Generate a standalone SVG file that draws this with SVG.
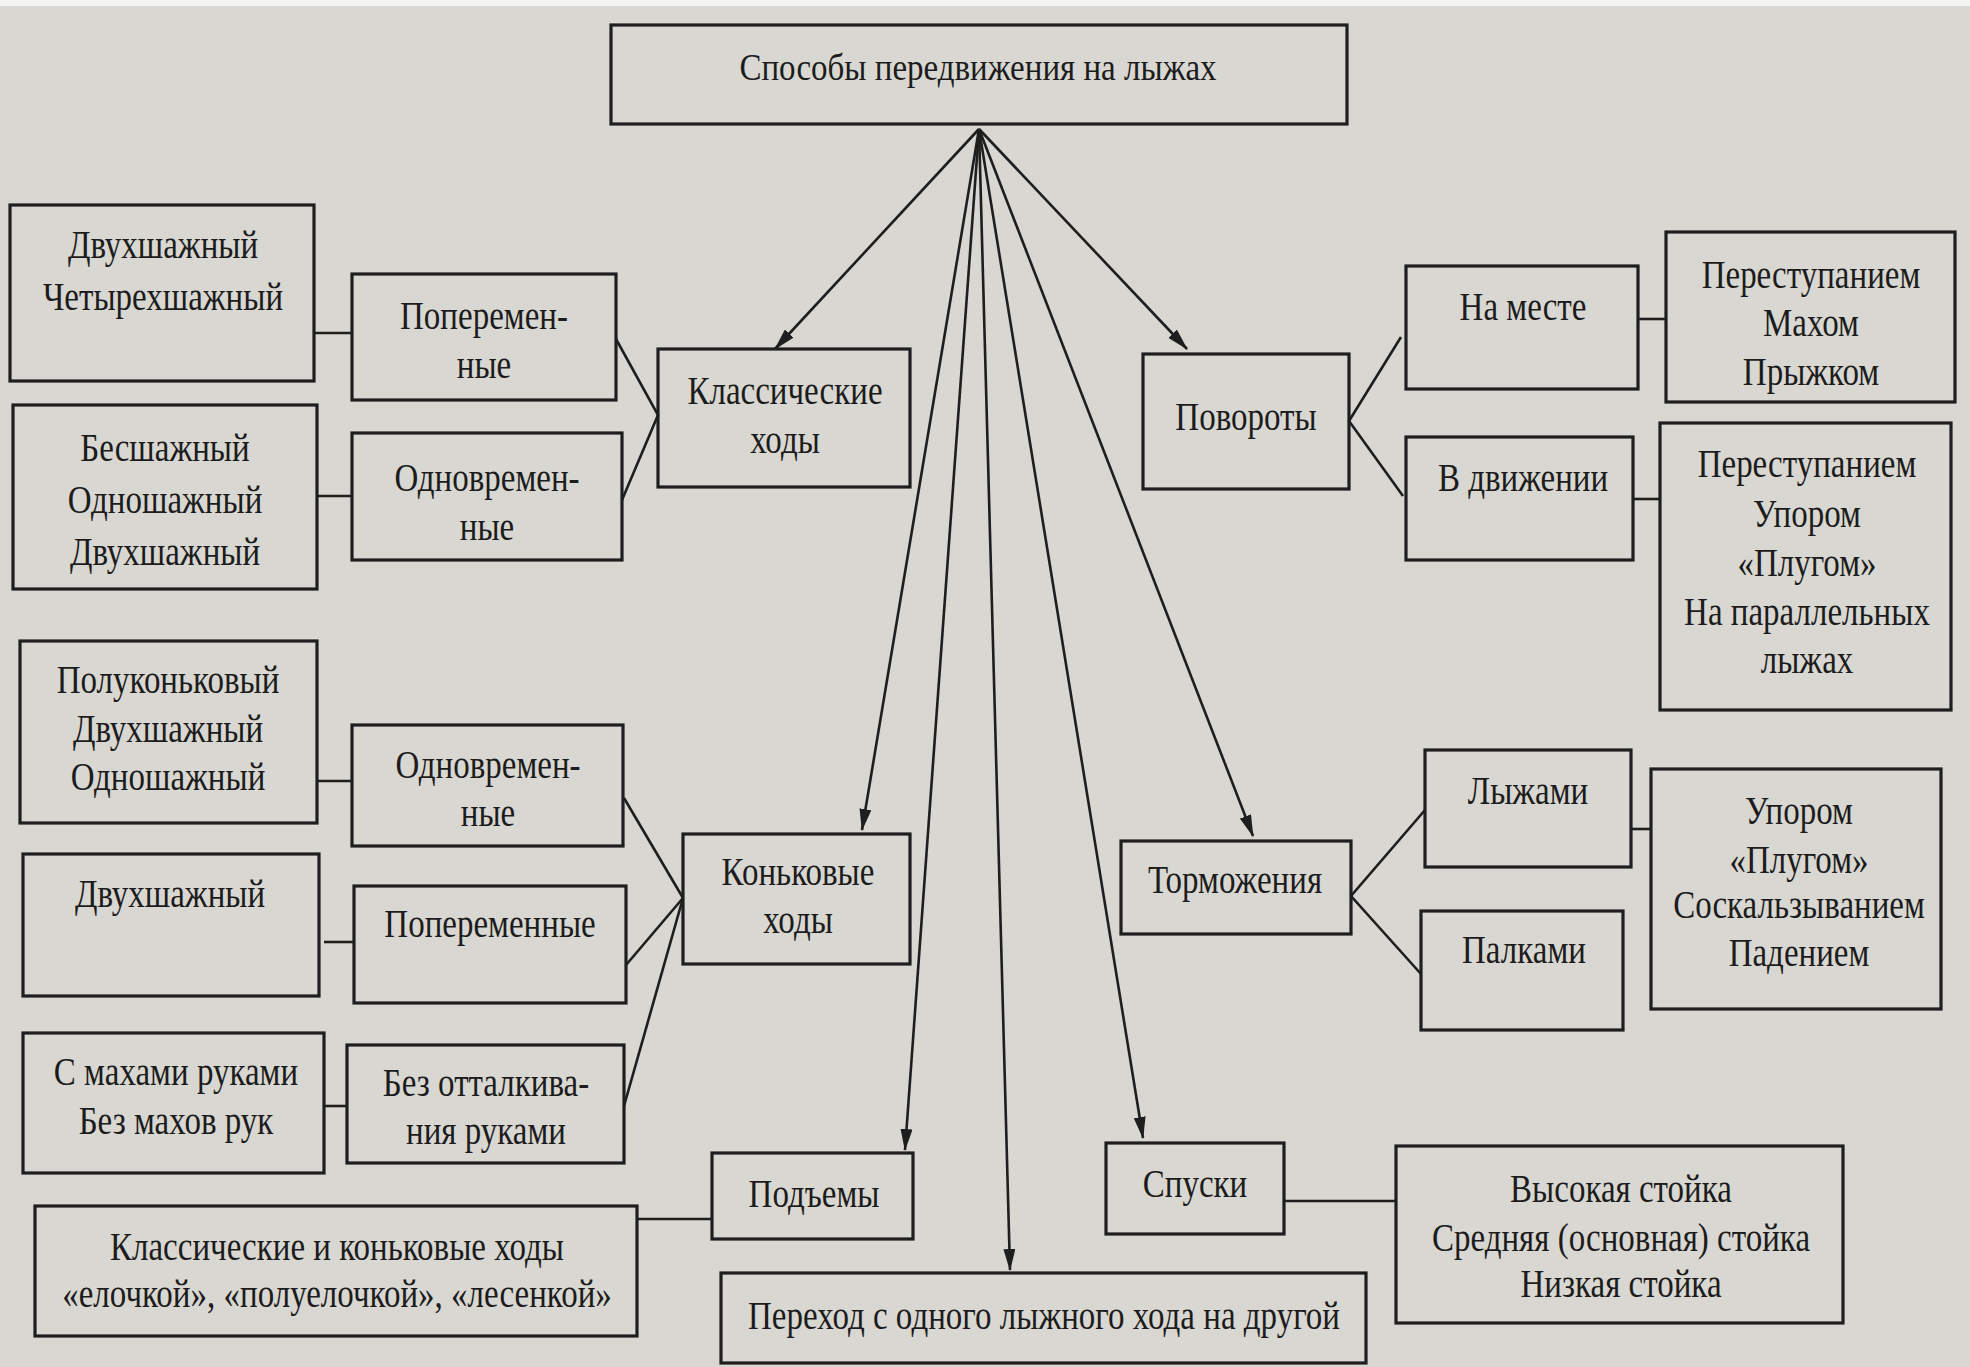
<svg xmlns="http://www.w3.org/2000/svg" width="1970" height="1367" viewBox="0 0 1970 1367">
<defs>
<style>
.bx{fill:none;stroke:#1e1e1e;stroke-width:3.2}
.ln{fill:none;stroke:#1e1e1e;stroke-width:2.6}
.ar{fill:none;stroke:#1e1e1e;stroke-width:2.6;marker-end:url(#ah)}
text{font-family:"Liberation Serif","Times New Roman",serif;font-size:33px;fill:#1c1c1c;text-anchor:middle}
</style>
<marker id="ah" viewBox="0 0 22 12" refX="21" refY="6" markerWidth="22" markerHeight="12" markerUnits="userSpaceOnUse" orient="auto">
<path d="M0,0 L22,6 L0,12 z" fill="#1e1e1e"/>
</marker>
</defs>
<rect x="0" y="0" width="1970" height="1367" fill="#d9d7d1"/>
<rect x="0" y="0" width="1970" height="6" fill="#f4f4f2"/>

<g id="connectors">
<line class="ar" x1="979" y1="129" x2="775" y2="349"/>
<line class="ar" x1="979" y1="129" x2="1187" y2="349"/>
<line class="ar" x1="979" y1="129" x2="862" y2="830"/>
<line class="ar" x1="979" y1="129" x2="905" y2="1150"/>
<line class="ar" x1="979" y1="129" x2="1010" y2="1270"/>
<line class="ar" x1="979" y1="129" x2="1143" y2="1138"/>
<line class="ar" x1="979" y1="129" x2="1253" y2="836"/>
<polyline class="ln" points="616,339 658,415 622,500"/>
<line class="ln" x1="314" y1="333" x2="352" y2="333"/>
<line class="ln" x1="317" y1="496" x2="352" y2="496"/>
<line class="ln" x1="624" y1="798" x2="683" y2="898"/>
<line class="ln" x1="626" y1="965" x2="683" y2="898"/>
<line class="ln" x1="624" y1="1106" x2="683" y2="898"/>
<line class="ln" x1="317" y1="781" x2="352" y2="781"/>
<line class="ln" x1="324" y1="942" x2="354" y2="942"/>
<line class="ln" x1="324" y1="1106" x2="347" y2="1106"/>
<line class="ln" x1="637" y1="1219" x2="712" y2="1219"/>
<line class="ln" x1="1284" y1="1201" x2="1396" y2="1201"/>
<polyline class="ln" points="1401,337 1349,421 1403,496"/>
<line class="ln" x1="1638" y1="319" x2="1666" y2="319"/>
<line class="ln" x1="1633" y1="499" x2="1660" y2="499"/>
<polyline class="ln" points="1425,810 1351,896 1421,974"/>
<line class="ln" x1="1631" y1="829" x2="1651" y2="829"/>
</g>

<g id="n-root"><rect class="bx" x="611" y="25" width="736" height="99"/><text transform="translate(978 80) scale(1 1.15)">Способы передвижения на лыжах</text></g>
<g id="n-classic"><rect class="bx" x="658" y="349" width="252" height="138"/><text transform="translate(785 404) scale(1 1.2)">Классические</text><text transform="translate(785 453) scale(1 1.2)">ходы</text></g>
<g id="n-turns"><rect class="bx" x="1143" y="354" width="206" height="135"/><text transform="translate(1246 430) scale(1 1.2)">Повороты</text></g>
<g id="n-c-alt"><rect class="bx" x="352" y="274" width="264" height="126"/><text transform="translate(484 329) scale(1 1.2)">Поперемен-</text><text transform="translate(484 378) scale(1 1.2)">ные</text></g>
<g id="n-c-sim"><rect class="bx" x="352" y="433" width="270" height="127"/><text transform="translate(487 491) scale(1 1.2)">Одновремен-</text><text transform="translate(487 540) scale(1 1.2)">ные</text></g>
<g id="n-c-alt-list"><rect class="bx" x="10" y="205" width="304" height="176"/><text transform="translate(163 258) scale(1 1.2)">Двухшажный</text><text transform="translate(163 310) scale(1 1.2)">Четырехшажный</text></g>
<g id="n-c-sim-list"><rect class="bx" x="13" y="405" width="304" height="184"/><text transform="translate(165 461) scale(1 1.2)">Бесшажный</text><text transform="translate(165 513) scale(1 1.2)">Одношажный</text><text transform="translate(165 565) scale(1 1.2)">Двухшажный</text></g>
<g id="n-s-sim-list"><rect class="bx" x="20" y="641" width="297" height="182"/><text transform="translate(168 693) scale(1 1.2)">Полуконьковый</text><text transform="translate(168 742) scale(1 1.2)">Двухшажный</text><text transform="translate(168 790) scale(1 1.2)">Одношажный</text></g>
<g id="n-s-sim"><rect class="bx" x="352" y="725" width="271" height="121"/><text transform="translate(488 778) scale(1 1.2)">Одновремен-</text><text transform="translate(488 826) scale(1 1.2)">ные</text></g>
<g id="n-s-alt-list"><rect class="bx" x="23" y="854" width="296" height="142"/><text transform="translate(170 907) scale(1 1.2)">Двухшажный</text></g>
<g id="n-s-alt"><rect class="bx" x="354" y="886" width="272" height="117"/><text transform="translate(490 937) scale(1 1.2)">Попеременные</text></g>
<g id="n-s-no-list"><rect class="bx" x="23" y="1033" width="301" height="140"/><text transform="translate(176 1085) scale(1 1.2)">С махами руками</text><text transform="translate(176 1134) scale(1 1.2)">Без махов рук</text></g>
<g id="n-s-no"><rect class="bx" x="347" y="1045" width="277" height="118"/><text transform="translate(486 1096) scale(1 1.2)">Без отталкива-</text><text transform="translate(486 1144) scale(1 1.2)">ния руками</text></g>
<g id="n-skate"><rect class="bx" x="683" y="834" width="227" height="130"/><text transform="translate(798 885) scale(1 1.2)">Коньковые</text><text transform="translate(798 933) scale(1 1.2)">ходы</text></g>
<g id="n-climb"><rect class="bx" x="712" y="1153" width="201" height="86"/><text transform="translate(814 1207) scale(1 1.2)">Подъемы</text></g>
<g id="n-climb-list"><rect class="bx" x="35" y="1206" width="602" height="130"/><text transform="translate(337 1260) scale(1 1.2)">Классические и коньковые ходы</text><text transform="translate(337 1307) scale(1 1.2)">«елочкой», «полуелочкой», «лесенкой»</text></g>
<g id="n-switch"><rect class="bx" x="721" y="1273" width="645" height="90"/><text transform="translate(1044 1329) scale(1 1.2)">Переход с одного лыжного хода на другой</text></g>
<g id="n-down"><rect class="bx" x="1106" y="1143" width="178" height="91"/><text transform="translate(1195 1197) scale(1 1.2)">Спуски</text></g>
<g id="n-down-list"><rect class="bx" x="1396" y="1146" width="447" height="177"/><text transform="translate(1621 1202) scale(1 1.2)">Высокая стойка</text><text transform="translate(1621 1251) scale(1 1.2)">Средняя (основная) стойка</text><text transform="translate(1621 1297) scale(1 1.2)">Низкая стойка</text></g>
<g id="n-brake"><rect class="bx" x="1121" y="841" width="230" height="93"/><text transform="translate(1235 893) scale(1 1.2)">Торможения</text></g>
<g id="n-brake-ski"><rect class="bx" x="1425" y="750" width="206" height="117"/><text transform="translate(1528 804) scale(1 1.2)">Лыжами</text></g>
<g id="n-brake-pole"><rect class="bx" x="1421" y="911" width="202" height="119"/><text transform="translate(1524 963) scale(1 1.2)">Палками</text></g>
<g id="n-brake-list"><rect class="bx" x="1651" y="769" width="290" height="240"/><text transform="translate(1799 824) scale(1 1.2)">Упором</text><text transform="translate(1799 873) scale(1 1.2)">«Плугом»</text><text transform="translate(1799 918) scale(1 1.2)">Соскальзыванием</text><text transform="translate(1799 966) scale(1 1.2)">Падением</text></g>
<g id="n-turn-place"><rect class="bx" x="1406" y="266" width="232" height="123"/><text transform="translate(1523 320) scale(1 1.2)">На месте</text></g>
<g id="n-turn-move"><rect class="bx" x="1406" y="437" width="227" height="123"/><text transform="translate(1523 491) scale(1 1.2)">В движении</text></g>
<g id="n-turn-place-list"><rect class="bx" x="1666" y="232" width="289" height="170"/><text transform="translate(1811 288) scale(1 1.2)">Переступанием</text><text transform="translate(1811 336) scale(1 1.2)">Махом</text><text transform="translate(1811 385) scale(1 1.2)">Прыжком</text></g>
<g id="n-turn-move-list"><rect class="bx" x="1660" y="423" width="291" height="287"/><text transform="translate(1807 477) scale(1 1.2)">Переступанием</text><text transform="translate(1807 527) scale(1 1.2)">Упором</text><text transform="translate(1807 576) scale(1 1.2)">«Плугом»</text><text transform="translate(1807 625) scale(1 1.2)">На параллельных</text><text transform="translate(1807 673) scale(1 1.2)">лыжах</text></g>
</svg>
